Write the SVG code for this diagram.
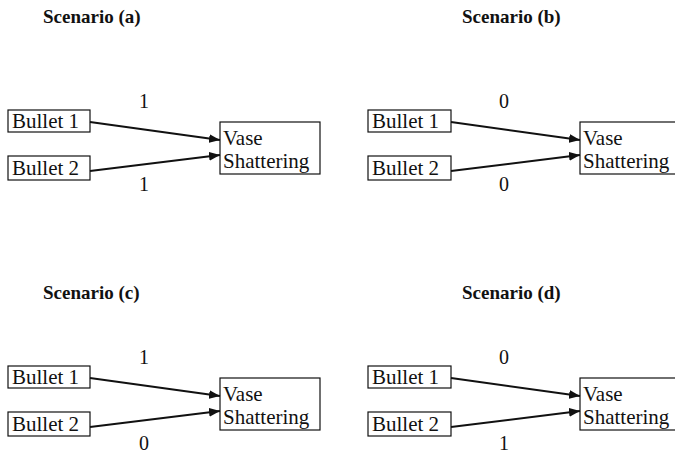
<svg xmlns="http://www.w3.org/2000/svg" width="675" height="454" viewBox="0 0 675 454">
<defs>
<marker id="ah" viewBox="0 0 10 8" refX="10" refY="4" markerWidth="11" markerHeight="9" markerUnits="userSpaceOnUse" orient="auto">
<path d="M0,0 L10,4 L0,8 Z" fill="#111"/>
</marker>
<style>
.box{fill:#fff;stroke:#111;stroke-width:1.2}
text{font-family:'Liberation Serif','Times New Roman','DejaVu Serif',serif;fill:#111}
.t{font-size:21px}
.title{font-size:19px;font-weight:bold}
.lbl{font-size:20px;text-anchor:middle}
.c{stroke:#111;stroke-width:2;fill:none;marker-end:url(#ah)}
</style>
</defs>
<rect width="675" height="454" fill="#fff"/>
<text class="title" x="43" y="23">Scenario (a)</text>
<text class="title" x="462" y="23">Scenario (b)</text>
<text class="title" x="43" y="299">Scenario (c)</text>
<text class="title" x="462" y="299">Scenario (d)</text>

<g id="a-bullet1"><rect class="box" x="8" y="110" width="82" height="22"/><text class="t" x="12" y="128">Bullet 1</text></g>
<g id="a-bullet2"><rect class="box" x="8" y="156" width="82" height="24"/><text class="t" x="12" y="175">Bullet 2</text></g>
<g id="a-vase"><rect class="box" x="220" y="122" width="100" height="52"/><text class="t" x="223" y="145">Vase</text><text class="t" x="223" y="168">Shattering</text></g>

<g id="b-bullet1"><rect class="box" x="368" y="110" width="83" height="22"/><text class="t" x="372" y="128">Bullet 1</text></g>
<g id="b-bullet2"><rect class="box" x="368" y="156" width="83" height="24"/><text class="t" x="372" y="175">Bullet 2</text></g>
<g id="b-vase"><rect class="box" x="580" y="122" width="100" height="52"/><text class="t" x="583" y="145">Vase</text><text class="t" x="583" y="168">Shattering</text></g>

<g id="c-bullet1"><rect class="box" x="8" y="366" width="82" height="22"/><text class="t" x="12" y="384">Bullet 1</text></g>
<g id="c-bullet2"><rect class="box" x="8" y="412" width="82" height="24"/><text class="t" x="12" y="431">Bullet 2</text></g>
<g id="c-vase"><rect class="box" x="220" y="378" width="100" height="52"/><text class="t" x="223" y="401">Vase</text><text class="t" x="223" y="424">Shattering</text></g>

<g id="d-bullet1"><rect class="box" x="368" y="366" width="83" height="22"/><text class="t" x="372" y="384">Bullet 1</text></g>
<g id="d-bullet2"><rect class="box" x="368" y="412" width="83" height="24"/><text class="t" x="372" y="431">Bullet 2</text></g>
<g id="d-vase"><rect class="box" x="580" y="378" width="100" height="52"/><text class="t" x="583" y="401">Vase</text><text class="t" x="583" y="424">Shattering</text></g>

<g id="connectors">
<line class="c" x1="90" y1="122" x2="220" y2="140"/>
<line class="c" x1="90" y1="171" x2="220" y2="155"/>
<line class="c" x1="451" y1="122" x2="580" y2="140"/>
<line class="c" x1="451" y1="171" x2="580" y2="155"/>
<line class="c" x1="90" y1="378" x2="220" y2="396"/>
<line class="c" x1="90" y1="427" x2="220" y2="411"/>
<line class="c" x1="451" y1="378" x2="580" y2="396"/>
<line class="c" x1="451" y1="427" x2="580" y2="411"/>
</g>
<g id="labels">
<text class="lbl" x="144" y="108">1</text>
<text class="lbl" x="144" y="191">1</text>
<text class="lbl" x="504" y="108">0</text>
<text class="lbl" x="504" y="191">0</text>
<text class="lbl" x="144" y="364">1</text>
<text class="lbl" x="144" y="450">0</text>
<text class="lbl" x="504" y="364">0</text>
<text class="lbl" x="504" y="450">1</text>
</g>
</svg>
